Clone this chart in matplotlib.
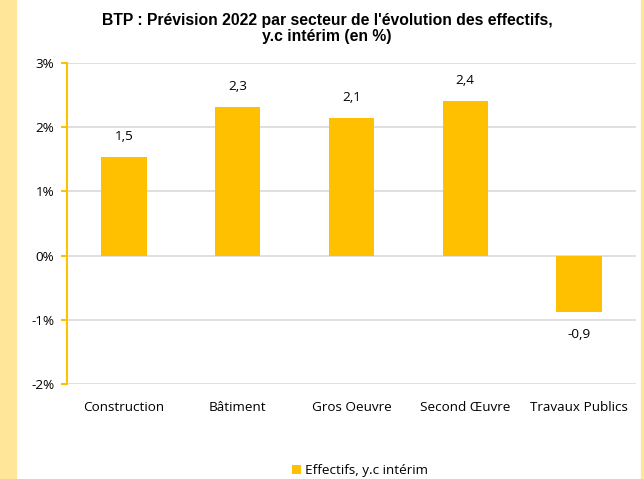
import matplotlib

matplotlib.use("Agg")
import matplotlib.pyplot as plt
from matplotlib.patches import Rectangle

# Prévision 2022 de l'évolution des effectifs par secteur (en %)
secteurs = ["Construction", "Bâtiment", "Gros Oeuvre", "Second Œuvre", "Travaux Publics"]
effectifs = [1.54, 2.31, 2.14, 2.41, -0.88]
yticks = [-2, -1, 0, 1, 2, 3]

BAR = "#FFC000"
FS = 9.7
plt.rcParams["font.family"] = ["Open Sans", "DejaVu Sans"]

fig = plt.figure(figsize=(6.44, 4.79), dpi=100)

# yellow frame strips on both sides
fig.patches.append(Rectangle((0, 0), 16 / 644, 1, transform=fig.transFigure,
                             color="#FFE699", zorder=0))
fig.patches.append(Rectangle((641 / 644, 0), 3 / 644, 1, transform=fig.transFigure,
                             color="#FFE699", zorder=0))

ax = fig.add_axes([67 / 644, 1 - 384 / 479, (636 - 67) / 644, (384 - 63) / 479])
x = range(len(secteurs))
ax.bar(x, effectifs, width=0.4, color=BAR, zorder=3, label="Effectifs, y.c intérim")

ax.set_ylim(-2, 3)
ax.set_xlim(-0.5, len(secteurs) - 0.5)
ax.set_yticks(yticks)
ax.set_yticklabels([f"{v}%" for v in yticks], fontsize=FS)
ax.set_xticks(list(x))
ax.set_xticklabels(secteurs, fontsize=FS)
ax.tick_params(axis="x", length=0, pad=12.5)
ax.tick_params(axis="y", length=4, color=BAR, width=1.5, pad=5)
ax.grid(axis="y", color="#D9D9D9", linewidth=1.2, zorder=0)

for side in ("top", "right", "bottom"):
    ax.spines[side].set_visible(False)
ax.spines["left"].set_color(BAR)
ax.spines["left"].set_linewidth(1.5)

for i, v in enumerate(effectifs):
    txt = f"{v:.1f}".replace(".", ",")
    if v >= 0:
        ax.annotate(txt, (i, v), xytext=(0, 10), textcoords="offset points",
                    ha="center", va="bottom", fontsize=FS)
    else:
        ax.annotate(txt, (i, v), xytext=(0, -11.5), textcoords="offset points",
                    ha="center", va="top", fontsize=FS)

fig.text(327 / 644, 1 - 28.5 / 479,
         "BTP : Prévision 2022 par secteur de l'évolution des effectifs,\ny.c intérim (en %)",
         ha="center", va="center", fontsize=11.3, fontweight="bold",
         family=["Liberation Sans", "DejaVu Sans"], linespacing=1.05)

fig.legend(loc="center", bbox_to_anchor=(360 / 644, 1 - 470.5 / 479), frameon=False,
           fontsize=FS, handlelength=0.7, handleheight=0.7, handletextpad=0.3)

fig.savefig("out.png", dpi=100)
